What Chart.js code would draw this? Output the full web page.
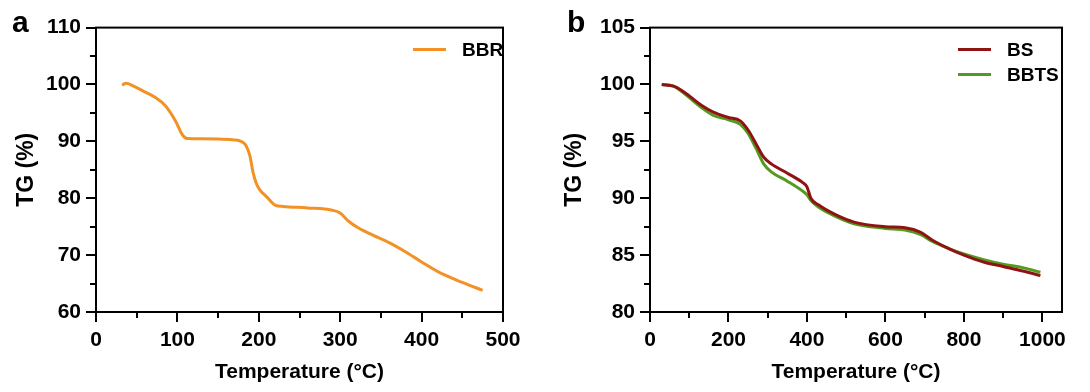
<!DOCTYPE html>
<html>
<head>
<meta charset="utf-8">
<script src="https://cdn.jsdelivr.net/npm/chart.js@4.4.1/dist/chart.umd.min.js"></script>
<style>
  html, body { margin: 0; padding: 0; background: #fff; }
  .wrap { display: flex; width: 1090px; height: 392px; }
  .panel { width: 545px; height: 392px; }
</style>
</head>
<body>
<div class="wrap">
  <div class="panel"><canvas id="chartA" width="545" height="392"></canvas></div>
  <div class="panel"><canvas id="chartB" width="545" height="392"></canvas></div>
</div>
<script>
// TGA curves

// panel a - BBR
const bbrTemp = [32, 37, 45, 60, 72, 85, 98, 106, 112, 130, 150, 170, 178, 184, 189, 193, 197, 201, 210, 220, 230, 260, 290, 300, 310, 322, 340, 360, 380, 400, 420, 450, 475];
const bbrTG = [99.9, 100.2, 99.8, 98.7, 97.8, 96.3, 93.5, 91.2, 90.5, 90.45, 90.4, 90.25, 90.0, 89.3, 87.5, 84.5, 82.6, 81.5, 80.2, 78.8, 78.55, 78.3, 77.9, 77.4, 76.0, 74.8, 73.5, 72.2, 70.6, 68.8, 67.1, 65.2, 63.8];

// panel b - BS and BBTS (same temperature grid)
const bTemp = [30, 60, 80, 100, 130, 160, 200, 230, 250, 270, 290, 310, 350, 390, 400, 410, 430, 470, 520, 600, 650, 690, 720, 760, 800, 850, 900, 950, 995];
const bsTG = [100.0, 99.85, 99.5, 99.0, 98.2, 97.6, 97.1, 96.8, 96.0, 94.8, 93.6, 93.0, 92.2, 91.35, 91.0, 90.0, 89.4, 88.6, 87.9, 87.5, 87.4, 87.0, 86.3, 85.6, 85.0, 84.4, 84.0, 83.6, 83.2];
const bbtsTG = [100.0, 99.85, 99.4, 98.85, 98.0, 97.3, 96.9, 96.5, 95.7, 94.4, 93.0, 92.3, 91.5, 90.6, 90.3, 89.8, 89.2, 88.45, 87.75, 87.35, 87.2, 86.8, 86.2, 85.6, 85.1, 84.6, 84.2, 83.9, 83.5];

const FONT = '"Liberation Sans", Arial, Helvetica, sans-serif';

function toXY(xs, ys) {
  return xs.map((x, i) => ({ x: x, y: ys[i] }));
}

// frame, major/minor tick marks, panel letter and legend
const decor = {
  id: 'decor',
  afterDraw(chart, args, opts) {
    const { ctx, chartArea: a } = chart;
    const xs = chart.scales.x, ys = chart.scales.y;
    ctx.save();
    ctx.strokeStyle = '#000';
    ctx.lineWidth = 2;
    ctx.strokeRect(a.left, a.top, a.right - a.left, a.bottom - a.top);
    ctx.beginPath();
    xs.ticks.forEach(t => {
      const px = Math.round(xs.getPixelForValue(t.value));
      const len = t.value % opts.xMajor === 0 ? 10 : 6;
      ctx.moveTo(px, a.bottom);
      ctx.lineTo(px, a.bottom + len);
    });
    ys.ticks.forEach(t => {
      const py = Math.round(ys.getPixelForValue(t.value));
      const len = Math.abs(t.value % opts.yMajor) < 1e-6 ? 10 : 6;
      ctx.moveTo(a.left, py);
      ctx.lineTo(a.left - len, py);
    });
    ctx.stroke();

    // panel letter
    ctx.fillStyle = '#000';
    ctx.font = 'bold 30px ' + FONT;
    ctx.textBaseline = 'alphabetic';
    ctx.textAlign = 'left';
    ctx.fillText(opts.letter, opts.letterX, 32);

    // legend
    ctx.font = 'bold 19px ' + FONT;
    ctx.textBaseline = 'middle';
    chart.data.datasets.forEach((ds, i) => {
      const y = a.top + 22 + i * 25;
      const x0 = a.right - opts.legendRight;
      ctx.strokeStyle = ds.borderColor;
      ctx.lineWidth = 3;
      ctx.beginPath();
      ctx.moveTo(x0, y);
      ctx.lineTo(x0 + 33, y);
      ctx.stroke();
      ctx.fillStyle = '#000';
      ctx.fillText(ds.label, x0 + 49, y + 1);
    });
    ctx.restore();
  }
};

function makeOptions(cfg) {
  const tickFont = { family: FONT, size: 21, weight: 'bold' };
  const titleFont = { family: FONT, size: 21, weight: 'bold' };
  return {
    responsive: false,
    animation: false,
    layout: { padding: { top: 27, right: cfg.padRight, left: 0, bottom: 0 } },
    plugins: {
      legend: { display: false },
      tooltip: { enabled: false },
      decor: cfg.decor
    },
    elements: {
      point: { radius: 0 },
      line: { borderWidth: 3, cubicInterpolationMode: 'monotone' }
    },
    scales: {
      x: {
        type: 'linear',
        min: cfg.xMin, max: cfg.xMax,
        grid: { drawOnChartArea: false, drawTicks: false },
        border: { display: false },
        ticks: {
          stepSize: cfg.xStep,
          includeBounds: false,
          autoSkip: false,
          maxRotation: 0,
          padding: 16,
          color: '#000',
          font: tickFont,
          callback: v => (v % cfg.decor.xMajor === 0 ? v : '')
        },
        title: {
          display: true, text: 'Temperature (°C)', color: '#000',
          font: titleFont, padding: { top: 0, bottom: 7 }
        },
        afterFit: s => { s.height = 80; }
      },
      y: {
        min: cfg.yMin, max: cfg.yMax,
        grid: { drawOnChartArea: false, drawTicks: false },
        border: { display: false },
        ticks: {
          stepSize: cfg.yStep,
          includeBounds: false,
          autoSkip: false,
          padding: 15,
          color: '#000',
          font: tickFont,
          callback: v => (Math.abs(v % cfg.decor.yMajor) < 1e-6 ? v : '')
        },
        title: {
          display: true, text: 'TG (%)', color: '#000',
          font: { family: FONT, size: 23, weight: 'bold' },
          padding: { top: cfg.yTitlePad, bottom: 0 }
        },
        afterFit: s => { s.width = cfg.yWidth; }
      }
    }
  };
}

new Chart(document.getElementById('chartA'), {
  type: 'line',
  data: {
    datasets: [
      { label: 'BBR', data: toXY(bbrTemp, bbrTG), borderColor: '#F39125' }
    ]
  },
  options: makeOptions({
    xMin: 0, xMax: 500, xStep: 50,
    yMin: 60, yMax: 110, yStep: 5,
    padRight: 42, yWidth: 96, yTitlePad: 13,
    decor: { xMajor: 100, yMajor: 10, letter: 'a', letterX: 12, legendRight: 90 }
  }),
  plugins: [decor]
});

new Chart(document.getElementById('chartB'), {
  type: 'line',
  data: {
    datasets: [
      { label: 'BS', data: toXY(bTemp, bsTG), borderColor: '#8E1414' },
      { label: 'BBTS', data: toXY(bTemp, bbtsTG), borderColor: '#549A1E' }
    ]
  },
  options: makeOptions({
    xMin: 0, xMax: 1050, xStep: 100,
    yMin: 80, yMax: 105, yStep: 2.5,
    padRight: 28, yWidth: 105, yTitlePad: 16,
    decor: { xMajor: 200, yMajor: 5, letter: 'b', letterX: 22, legendRight: 104 }
  }),
  plugins: [decor]
});
</script>
</body>
</html>
